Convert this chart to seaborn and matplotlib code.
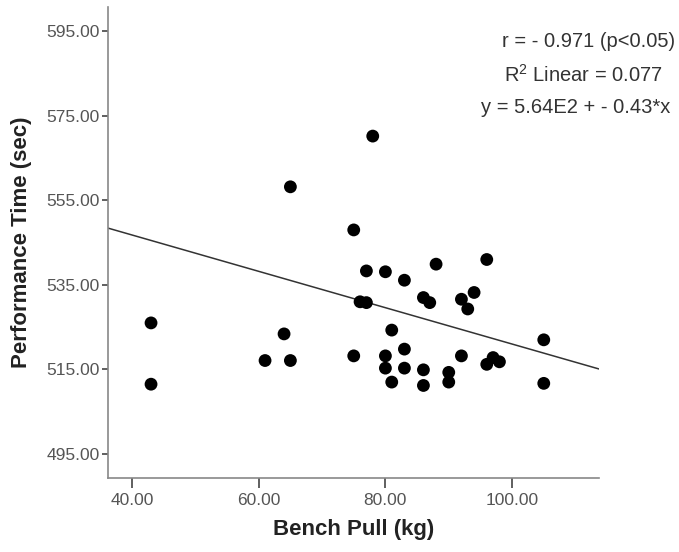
import pandas as pd
import matplotlib
matplotlib.use("Agg")
import matplotlib.pyplot as plt
import seaborn as sns

# Bench pull (kg) vs performance time (sec)
bench_pull = [65, 43, 43, 64, 61, 65,
              78, 75, 77, 80, 83, 88, 96,
              76, 77, 86, 87, 92, 93, 94,
              81, 75, 80, 83, 80, 83, 81,
              86, 86, 90, 90, 92, 96, 97, 98,
              105, 105]
perf_time = [558.2, 526.0, 511.5, 523.4, 517.1, 517.1,
             570.2, 548.0, 538.3, 538.1, 536.1, 539.9, 541.0,
             531.0, 530.8, 532.0, 530.8, 531.6, 529.3, 533.2,
             524.3, 518.2, 518.2, 519.8, 515.3, 515.3, 512.0,
             514.9, 511.2, 514.3, 512.0, 518.2, 516.2, 517.8, 516.8,
             522.0, 511.7]

# fit line as printed on the chart: y = 5.64E2 + -0.43*x
fit_intercept = 564.0
fit_slope = -0.43

x_ticks = [40, 60, 80, 100]
y_ticks = [495, 515, 535, 555, 575, 595]
stats_lines = ["r = - 0.971 (p<0.05)",
               "R$^{2}$ Linear = 0.077",
               "y = 5.64E2 + - 0.43*x"]

df = pd.DataFrame({"bench": bench_pull, "time": perf_time})

sns.set_style("white")
plt.rcParams["font.family"] = ["Liberation Sans", "DejaVu Sans"]
plt.rcParams["mathtext.fontset"] = "custom"
plt.rcParams["mathtext.rm"] = "Liberation Sans"

fig = plt.figure(figsize=(6.79, 5.52), dpi=100)
ax = fig.add_axes([0.159, 0.134, 0.723, 0.853])

ax.axline((0, fit_intercept), slope=fit_slope, color="#333333", lw=1.1, zorder=1)
sns.scatterplot(data=df, x="bench", y="time", ax=ax, s=85, color="black",
                edgecolor="none", zorder=2)

ax.set_xlim(36.2, 113.7)
ax.set_ylim(489.3, 600.7)
ax.set_xticks(x_ticks)
ax.set_yticks(y_ticks)
ax.set_xticklabels([f"{v:.2f}" for v in x_ticks])
ax.set_yticklabels([f"{v:.2f}" for v in y_ticks])
ax.tick_params(axis="x", length=7, width=1.2, color="#444444",
               labelsize=12.5, labelcolor="#555555", pad=4, bottom=True)
ax.tick_params(axis="y", length=4, width=1.2, color="#444444",
               labelsize=12.5, labelcolor="#555555", pad=2, left=True)

for side in ["top", "right"]:
    ax.spines[side].set_visible(False)
for side in ["left", "bottom"]:
    ax.spines[side].set_color("#888888")
    ax.spines[side].set_linewidth(1.2)

ax.set_xlabel("Bench Pull (kg)", fontsize=16, fontweight="bold",
              color="#222222", labelpad=8)
ax.set_ylabel("Performance Time (sec)", fontsize=16, fontweight="bold",
              color="#222222", labelpad=10)

# annotation block in the top right corner
ypos = [0.924, 0.864, 0.806]
xpos = [0.994, 0.976, 0.987]
for txt, xx, yy in zip(stats_lines, xpos, ypos):
    fig.text(xx, yy, txt, ha="right", va="center", fontsize=14.5,
             color="#333333")

fig.savefig("out.png", dpi=100)
